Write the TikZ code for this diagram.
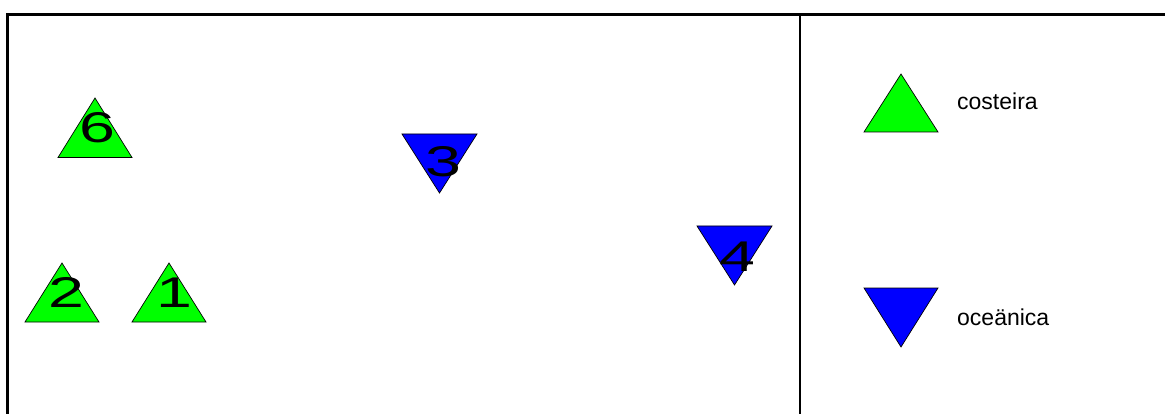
\documentclass[tikz,border=0pt]{standalone}
\usepackage{fontspec}
\usepackage{graphicx}
\setmainfont{Liberation Sans}
\definecolor{coastgreen}{RGB}{0,255,0}
\definecolor{oceanblue}{RGB}{0,0,255}
\newcommand\bignum[1]{\scalebox{1.5}[1]{#1}}
\begin{document}
\begin{tikzpicture}[x=1pt,y=-1pt,
  tri/.style={draw=black,line width=0.7pt,line join=miter},
  coast/.style={tri,fill=coastgreen},
  ocean/.style={tri,fill=oceanblue},
  num/.style={inner sep=0pt,font=\fontsize{43}{43}\selectfont},
  lab/.style={inner sep=0pt,anchor=base west,font=\fontsize{23}{23}\selectfont},
  frame/.style={draw=black,line width=3pt},
  divider/.style={draw=black,line width=1.2pt}]
\useasboundingbox (0,0) rectangle (1165,414);
% frame
\draw[frame] (7.5,414) -- (7.5,14.8) -- (1165,14.8);
\draw[divider] (800,14.8) -- (800,414);
% coastal stations (upright triangles)
\draw[coast] (95,98) -- (132,157.5) -- (58,157.5) -- cycle;
\draw[coast] (62,263) -- (99,322) -- (25,322) -- cycle;
\draw[coast] (169,263) -- (206,322) -- (132,322) -- cycle;
% oceanic stations (inverted triangles)
\draw[ocean] (402,134) -- (477,134) -- (439.5,193) -- cycle;
\draw[ocean] (697,226) -- (772,226) -- (734.5,285) -- cycle;
% numbers
\node[num] (n6) at (97,128) {\bignum{6}};
\node[num] (n2) at (66.5,292.5) {\bignum{2}};
\node[num] (n1) at (174.5,292.5) {\bignum{1}};
\node[num] (n3) at (443,162) {\bignum{3}};
\node[num] (n4) at (737.5,256.5) {\bignum{4}};
% legend
\draw[coast] (901,74) -- (938,132) -- (864,132) -- cycle;
\draw[ocean] (864,288) -- (938,288) -- (901,347) -- cycle;
\node[lab] (lc) at (957,109.5) {costeira};
\node[lab] (lo) at (957,325) {oce\"anica};
\end{tikzpicture}
\end{document}
